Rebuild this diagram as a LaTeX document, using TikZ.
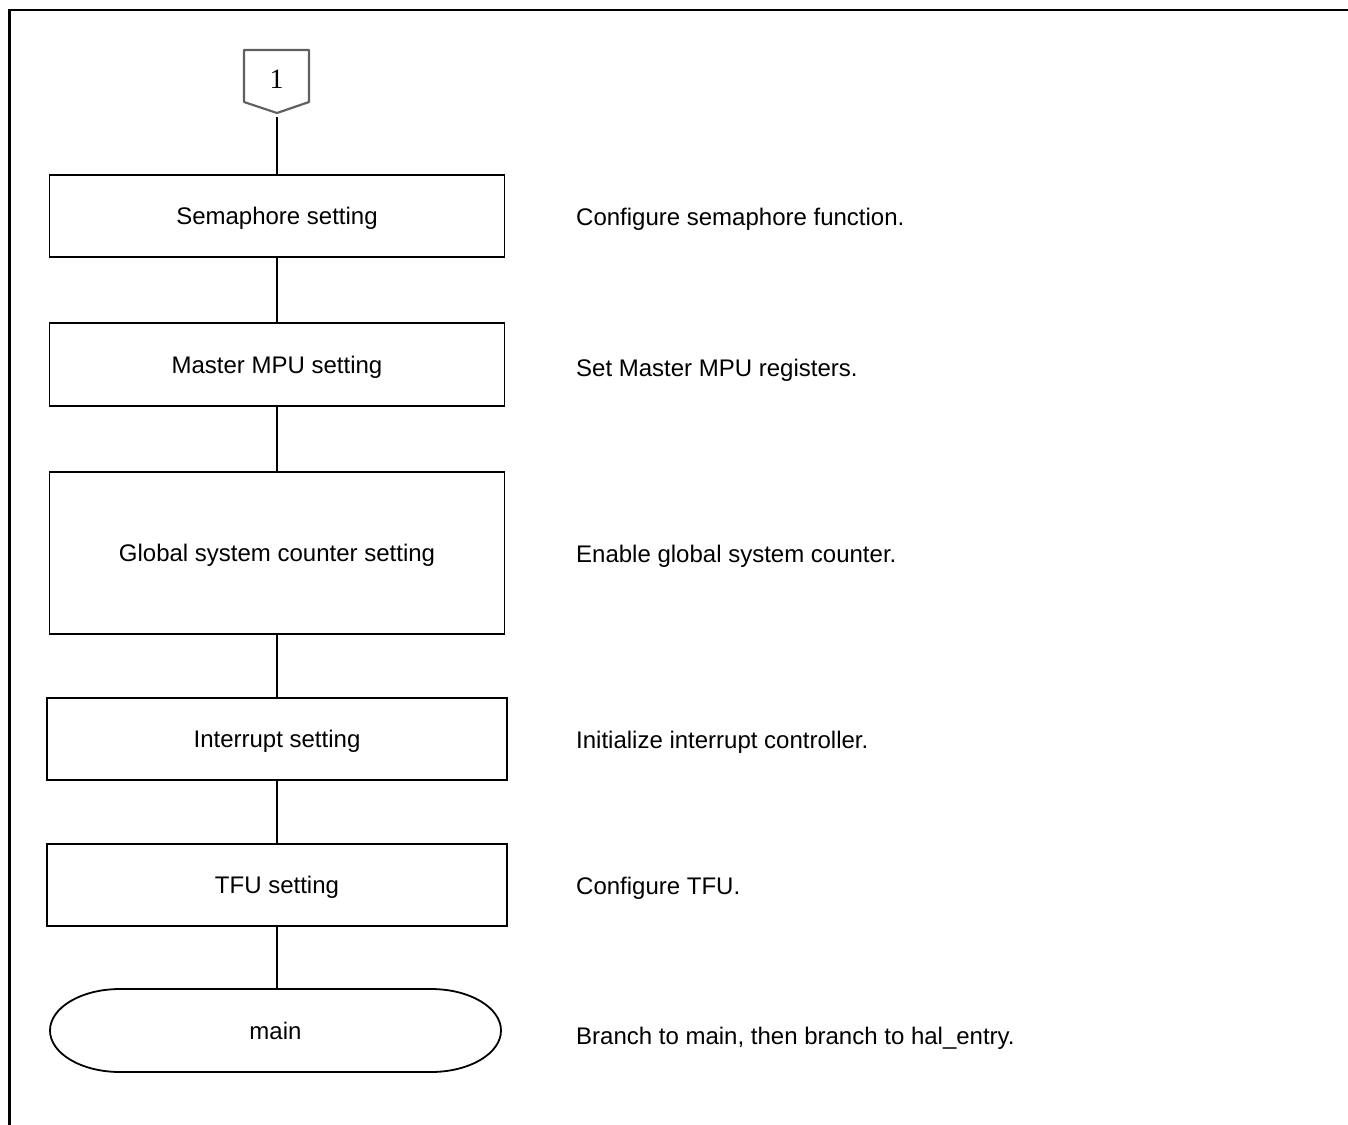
\documentclass[tikz,border=0pt]{standalone}
\usepackage{fontspec}
\setmainfont{Liberation Sans}
\newfontfamily\digitfont{Liberation Serif}
\begin{document}
\begin{tikzpicture}[x=1pt,y=-1pt,
  procbox/.style={draw=black,line width=1.8pt,fill=white,inner sep=0pt,
    text height=17pt,text depth=0pt,font=\fontsize{24}{28}\selectfont},
  note/.style={anchor=base west,inner sep=0pt,font=\fontsize{24}{28}\selectfont},
  link/.style={draw=black,line width=1.8pt}]
\useasboundingbox (0,0) rectangle (1348,1124);
\fill[white] (0,0) rectangle (1348,1124);
% page frame (top and left edges)
\draw[line width=2.2pt] (9.5,1130) -- (9.5,10) -- (1355,10);

% off-page connector
\draw[gray!75!black,line width=2.2pt,line join=round]
  (244,50) -- (309,50) -- (309,102) -- (277,113) -- (244,102) -- cycle;
\node[inner sep=0pt,text height=19pt,text depth=0pt,
  font=\digitfont\fontsize{28}{30}\selectfont] (conn) at (276.5,78.5) {1};
\coordinate (conntip) at (277,117);

% process steps
\node[procbox,minimum width=455pt,minimum height=82pt] (sem) at (277,216) {Semaphore setting};
\node[procbox,minimum width=455pt,minimum height=83pt] (mpu) at (277,364.5) {Master MPU setting};
\node[procbox,minimum width=455pt,minimum height=162pt] (gsc) at (277,553) {Global system counter setting};
\node[procbox,minimum width=460pt,minimum height=82pt] (irq) at (277,739) {Interrupt setting};
\node[procbox,minimum width=460pt,minimum height=82pt] (tfu) at (277,885) {TFU setting};

% terminal
\draw[line width=1.8pt,fill=white]
  (120,989) -- (431,989) arc[start angle=-90,end angle=90,x radius=70,y radius=41.5]
  -- (120,1072) arc[start angle=90,end angle=270,x radius=70,y radius=41.5] -- cycle;
\node[inner sep=0pt,minimum width=451pt,minimum height=83pt,text height=17pt,text depth=0pt,
  font=\fontsize{24}{28}\selectfont] (main) at (275.5,1030.5) {main};

% connectors
\draw[link] (conntip) -- (sem.north);
\draw[link] (sem.south) -- (mpu.north);
\draw[link] (mpu.south) -- (gsc.north);
\draw[link] (gsc.south) -- (irq.north);
\draw[link] (irq.south) -- (tfu.north);
\draw[link] (tfu.south) -- (tfu.south |- main.north);

% descriptions
\node[note] (d1) at (576,225) {Configure semaphore function.};
\node[note] (d2) at (576,376) {Set Master MPU registers.};
\node[note] (d3) at (576,562) {Enable global system counter.};
\node[note] (d4) at (576,748) {Initialize interrupt controller.};
\node[note] (d5) at (576,894) {Configure TFU.};
\node[note] (d6) at (576,1044) {Branch to main, then branch to hal\_entry.};
\end{tikzpicture}
\end{document}
